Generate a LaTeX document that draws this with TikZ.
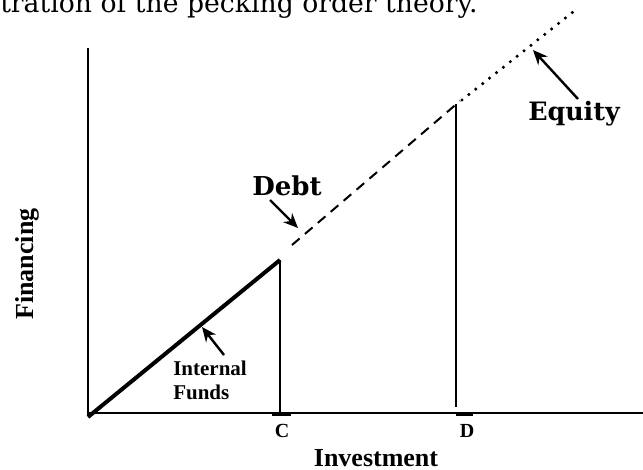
\documentclass[tikz,border=0pt]{standalone}
\usepackage{fontspec}
\setmainfont{Liberation Serif}
\newfontfamily\cambria{DejaVu Serif}
\usetikzlibrary{arrows.meta}
\begin{document}
\begin{tikzpicture}[x=0.75pt,y=-0.75pt,
    eje/.style={line width=1.5pt},
    flecha/.style={-{Stealth[length=11pt,width=9.5pt]}, line width=1.8pt},
    etiq/.style={font=\bfseries, inner sep=0pt}]
    \useasboundingbox (0,0) rectangle (643,469);

    % parámetros
    \def\xo{88}    % origen
    \def\xc{280}   % C
    \def\xd{456}   % D
    \def\ya{413}   % eje x

    % título (cortado)
    \node[anchor=base west, inner sep=0pt, font=\cambria\fontsize{20}{24}\selectfont] (tit) at (0,12)
        {tration of the pecking order theory.};

    % ejes
    \coordinate (Yt) at (\xo,48);
    \coordinate (Yb) at (\xo,415);
    \coordinate (Xl) at (\xo,\ya);
    \coordinate (Xr) at (643,\ya);
    \draw[eje] (Yb) -- (Yt);
    \draw[eje] (Xl) -- (Xr);

    % ticks en C y D
    \coordinate (c1) at (272,415);
    \coordinate (c2) at (291,415);
    \coordinate (d1) at (456,415);
    \coordinate (d2) at (473,415);
    \draw[eje] (c1) -- (c2);
    \draw[eje] (d1) -- (d2);

    % fondos internos
    \coordinate (O) at (\xo,417);
    \coordinate (P) at (\xc,260);
    \coordinate (Pc) at (\xc,\ya);
    \draw[line width=3pt] (O) -- (P);
    \draw[eje] (P) -- (Pc);

    % deuda
    \coordinate (d0) at (292,245);
    \coordinate (dd) at (460,101);
    \draw[eje, dash pattern=on 7.5pt off 5.25pt] (d0) -- (dd);

    % acciones
    \coordinate (e0) at (462,100);
    \coordinate (ee) at (573,12);
    \draw[line width=2.6pt, line cap=round, dash pattern=on 0pt off 6.6pt] (e0) -- (ee);

    % línea en D
    \coordinate (Dt) at (\xd,104);
    \coordinate (Db) at (\xd,407);
    \draw[eje] (Dt) -- (Db);

    % etiquetas de los ejes
    \node[etiq, anchor=base, font=\bfseries\fontsize{19.5}{22}\selectfont] (inv) at (376,466) {Investment};
    \node[etiq, anchor=base, rotate=90, font=\bfseries\fontsize{19.5}{22}\selectfont] (fin) at (33,264) {Financing};
    \node[etiq, anchor=base, font=\bfseries\fontsize{15}{18}\selectfont] (C) at (282,437) {C};
    \node[etiq, anchor=base, font=\bfseries\fontsize{15}{18}\selectfont] (D) at (467,437) {D};

    % rótulos con flecha
    \node[etiq, anchor=north west, align=left, font=\bfseries\fontsize{15.75}{18}\selectfont] (fi) at (173,361)
        {Internal\\Funds};
    \node[etiq, anchor=base, font=\cambria\bfseries\fontsize{19.5}{22}\selectfont] (debt) at (287,195) {Debt};
    \node[etiq, anchor=base, font=\cambria\bfseries\fontsize{19}{22}\selectfont] (eq) at (574,120) {Equity};

    \coordinate (fiA) at (224,355);
    \coordinate (fiB) at (202,327);
    \coordinate (dA) at (270,200);
    \coordinate (dB) at (298,228);
    \coordinate (eA) at (578,99);
    \coordinate (eB) at (533,50);
    \draw[flecha] (fiA) -- (fiB);
    \draw[flecha] (dA) -- (dB);
    \draw[flecha] (eA) -- (eB);
\end{tikzpicture}
\end{document}
